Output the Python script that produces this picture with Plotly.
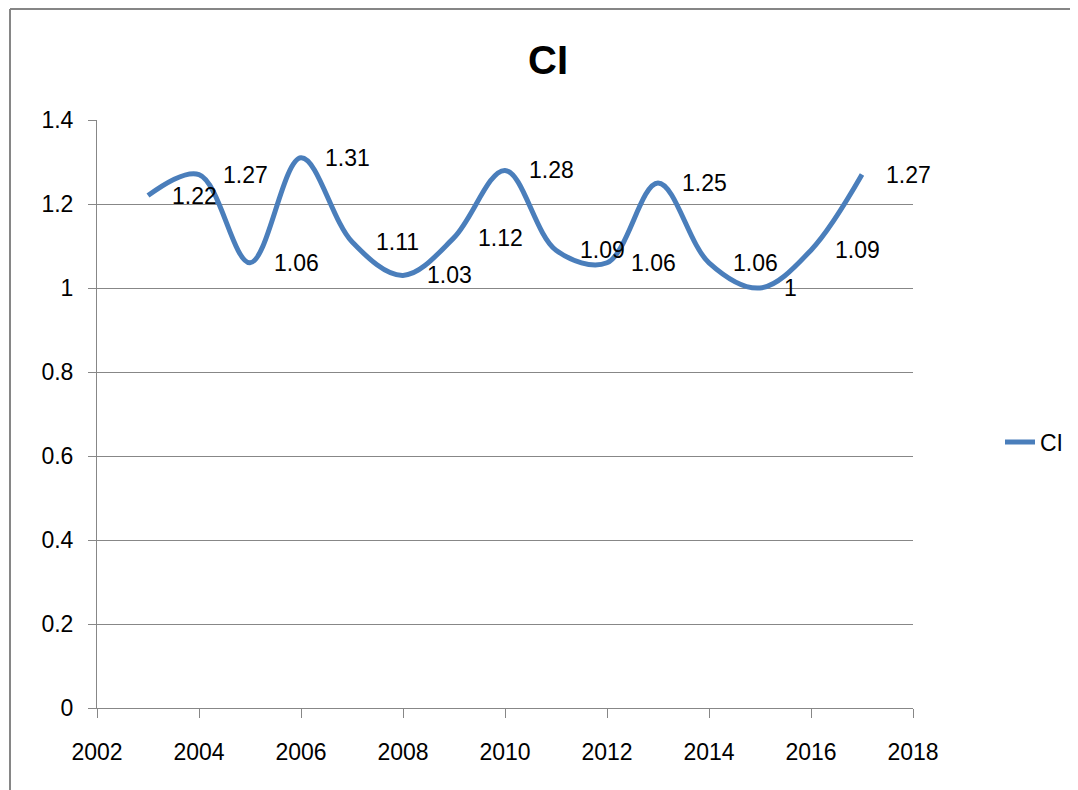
import plotly.graph_objects as go

years = [2003, 2004, 2005, 2006, 2007, 2008, 2009, 2010, 2011, 2012, 2013, 2014, 2015, 2016, 2017]
ci = [1.22, 1.27, 1.06, 1.31, 1.11, 1.03, 1.12, 1.28, 1.09, 1.06, 1.25, 1.06, 1.00, 1.09, 1.27]
labels = ["1.22", "1.27", "1.06", "1.31", "1.11", "1.03", "1.12", "1.28", "1.09", "1.06", "1.25", "1.06", "1", "1.09", "1.27"]
x_ticks = [2002, 2004, 2006, 2008, 2010, 2012, 2014, 2016, 2018]
y_ticks = [0, 0.2, 0.4, 0.6, 0.8, 1.0, 1.2, 1.4]
y_tick_text = ["0", "0.2", "0.4", "0.6", "0.8", "1", "1.2", "1.4"]

# page body has an 8px margin, so figure coords = screen coords - 8
OFF = 8
W, H = 1078, 790
L, T = 97 - OFF, 120 - OFF
pw, ph = 816, 588
R, B = W - L - pw, H - T - ph
FONT = "Liberation Sans, Arial, sans-serif"
GRID = "#878787"


def px_x(sx):
    return (sx - OFF - L) / pw


def px_y(sy):
    return (T + ph - (sy - OFF)) / ph


fig = go.Figure()
fig.add_trace(go.Scatter(
    x=years, y=ci, mode="lines", name="CI",
    line=dict(color="#4A7EBB", width=5, shape="spline", smoothing=1.0),
    hoverinfo="skip",
))

annotations = []
for xv, yv, t in zip(years, ci, labels):
    annotations.append(dict(
        x=xv, y=yv, xref="x", yref="y", text=t, showarrow=False,
        xanchor="left", yanchor="middle", xshift=22,
        font=dict(family=FONT, size=23, color="#000000"),
    ))

border = dict(color="#868686", width=2)
fig.update_layout(
    width=W, height=H,
    margin=dict(l=L, r=R, t=T, b=B),
    paper_bgcolor="white", plot_bgcolor="white",
    title=dict(text="<b>CI</b>", x=px_x(548), xref="paper", xanchor="center",
               y=1 - (60 - OFF) / H, yanchor="middle",
               font=dict(family=FONT, size=40, color="#000000")),
    showlegend=True,
    legend=dict(x=px_x(1000), xanchor="left", y=px_y(442), yanchor="middle",
                font=dict(family=FONT, size=23, color="#000000"),
                bgcolor="rgba(0,0,0,0)", borderwidth=0),
    xaxis=dict(range=[2002, 2018], tickvals=x_ticks, ticktext=[str(v) for v in x_ticks],
               showgrid=False, zeroline=False, showline=True, linecolor=GRID, linewidth=1,
               ticks="outside", ticklen=9, tickcolor=GRID, tickwidth=1,
               ticklabelstandoff=14,
               tickfont=dict(family=FONT, size=23, color="#000000")),
    yaxis=dict(range=[0, 1.4], tickvals=y_ticks, ticktext=y_tick_text,
               showgrid=True, gridcolor=GRID, gridwidth=1, zeroline=False,
               showline=True, linecolor=GRID, linewidth=1,
               ticks="outside", ticklen=8, tickcolor=GRID, tickwidth=1,
               ticklabelstandoff=10,
               tickfont=dict(family=FONT, size=23, color="#000000")),
    annotations=annotations,
    shapes=[
        dict(type="line", xref="paper", yref="paper",
             x0=px_x(10), x1=px_x(W + 40), y0=px_y(9), y1=px_y(9), line=border, layer="below"),
        dict(type="line", xref="paper", yref="paper",
             x0=px_x(10), x1=px_x(10), y0=px_y(9), y1=px_y(H + 40), line=border, layer="below"),
    ],
)

fig.write_html("out.html")
